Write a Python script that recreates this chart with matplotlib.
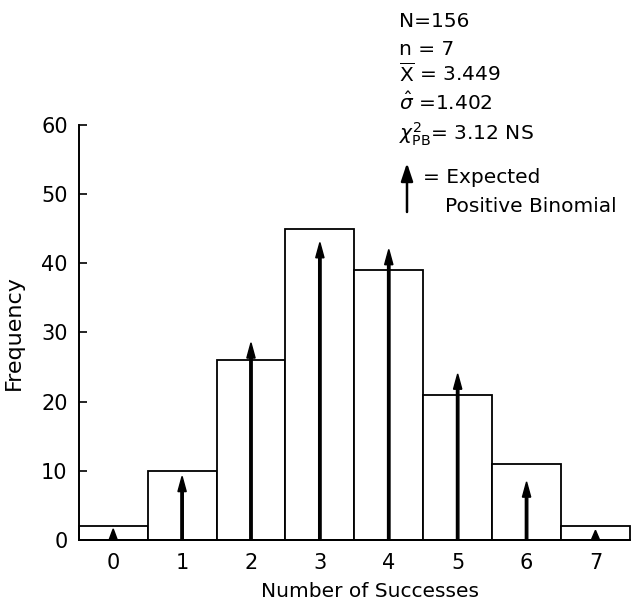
import matplotlib
matplotlib.use("Agg")
import matplotlib.pyplot as plt

# data
successes = [0, 1, 2, 3, 4, 5, 6, 7]
observed = [2, 10, 26, 45, 39, 21, 11, 2]
expected = [1.6, 9.2, 28.5, 43.0, 42.0, 24.0, 8.4, 1.4]
y_ticks = [0, 10, 20, 30, 40, 50, 60]

stats_lines = [
    "N=156",
    "n = 7",
    r"$\overline{\mathrm{X}}$ = 3.449",
    r"$\hat{\sigma}$ =1.402",
    r"$\chi^2_{\mathrm{PB}}$= 3.12 NS",
]

plt.rcParams["font.family"] = ["DejaVu Sans"]
plt.rcParams["mathtext.fontset"] = "dejavusans"

fig = plt.figure(figsize=(6.35, 6.14), dpi=100)
ax = fig.add_axes([0.124, 0.1205, 0.868, 0.676])

# histogram bars
ax.bar(successes, observed, width=1.0, color="white", edgecolor="black",
       linewidth=1.3, clip_on=False, zorder=2)

# expected positive binomial arrows (head shortened for the tiny ones)
for k, e in zip(successes, expected):
    ax.arrow(k, 0, 0, e, width=0.035, head_width=0.12,
             head_length=min(2.2, e), length_includes_head=True,
             color="black", zorder=3)

ax.set_xlim(-0.5, 7.5)
ax.set_ylim(0, 60)
ax.set_xticks(successes)
ax.set_yticks(y_ticks)
ax.tick_params(axis="x", length=0, pad=9, labelsize=15)
ax.tick_params(axis="y", direction="in", length=6, width=1.2, pad=8, labelsize=15)
for s in ["top", "right"]:
    ax.spines[s].set_visible(False)
ax.spines["left"].set_linewidth(1.4)
ax.spines["bottom"].set_linewidth(1.4)

ax.set_xlabel("Number of Successes", fontsize=14.5)
ax.xaxis.set_label_coords(0.528, -0.1)
ax.set_ylabel("Frequency", fontsize=16)
ax.yaxis.set_label_coords(-0.1, 0.5)

# statistics block
baselines = [27, 55, 82, 110, 140]
for txt, b in zip(stats_lines, baselines):
    fig.text(399 / 635, 1 - b / 614, txt, fontsize=14.5, ha="left", va="baseline")

# legend arrow
ax.annotate("", xy=(407 / 635, 1 - 163 / 614), xytext=(407 / 635, 1 - 212 / 614),
            xycoords="figure fraction", textcoords="figure fraction",
            arrowprops=dict(arrowstyle="-|>,head_length=0.6,head_width=0.2",
                            mutation_scale=18, lw=1.8, color="black",
                            shrinkA=0, shrinkB=0))
fig.text(423 / 635, 1 - 183 / 614, "= Expected", fontsize=14.5, ha="left", va="baseline")
fig.text(445 / 635, 1 - 212 / 614, "Positive Binomial", fontsize=14.5, ha="left", va="baseline")

fig.savefig("out.png", dpi=100)
